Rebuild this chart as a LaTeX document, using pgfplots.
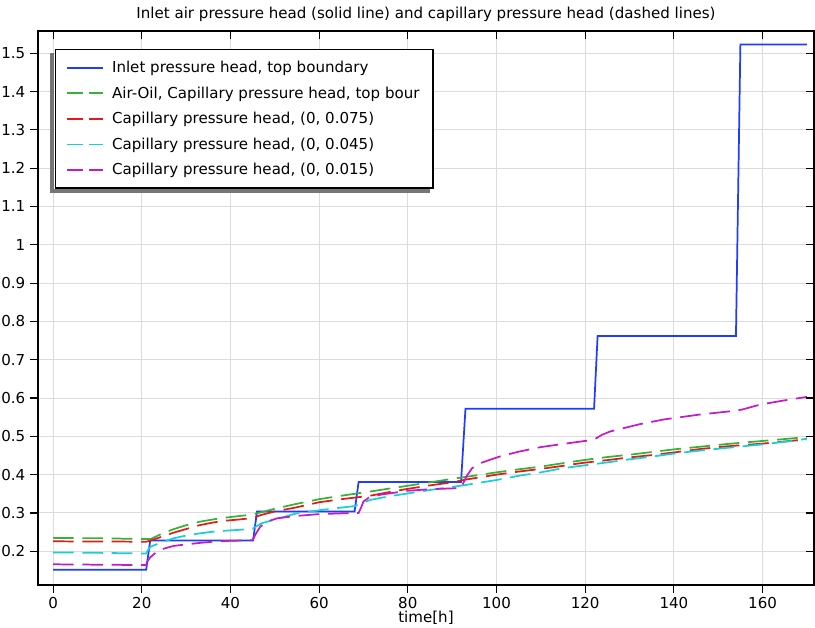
\documentclass[border=0pt]{standalone}
\usepackage{fontspec}
\setmainfont{DejaVu Sans}
\usepackage{pgfplots}
\pgfplotsset{compat=1.18}
\definecolor{cblue}{HTML}{1F3DFF}
\definecolor{cgreen}{HTML}{36B336}
\definecolor{cred}{HTML}{E31A1A}
\definecolor{ccyan}{HTML}{19CFD6}
\definecolor{cmag}{HTML}{C21BC9}
\definecolor{gridgray}{HTML}{DCDCDC}
\definecolor{shadowgray}{HTML}{767676}
\begin{document}
\begin{tikzpicture}
\pgfplotsset{dashleg/.style={legend image code/.code={\draw[##1,dash pattern=on 12pt off 4.5pt] (0pt,0pt) -- (27pt,0pt); \path (31pt,0pt);}}}
\begin{axis}[
  name=main, at={(0,0)}, anchor=south west,
  scale only axis, width=582pt, height=415.5pt,
  xmin=-3.4, xmax=171.6, ymin=0.112, ymax=1.558,
  xtick={0,20,...,160}, ytick={0.2,0.3,0.4,0.5,0.6,0.7,0.8,0.9,1,1.1,1.2,1.3,1.4,1.5},
  xtick pos=left, ytick pos=left, tick align=outside,
  major tick length=6pt,
  tick style={black, line width=0.8pt},
  axis line style={black, line width=1pt},
  grid=major, major grid style={gridgray, line width=0.75pt},
  font=\fontsize{11.3}{13.5}\selectfont,
  tick label style={font=\fontsize{11.3}{13.5}\selectfont},
  /pgf/number format/assume math mode=true,
  title={Inlet air pressure head (solid line) and capillary pressure head (dashed lines)},
  title style={at={(0.5,1)}, anchor=center, yshift=6.75pt, font=\fontsize{11.3}{13.5}\selectfont},
  xlabel={time[h]},
  xlabel style={at={(0.5,0)}, anchor=center, yshift=-24.5pt, font=\fontsize{11.3}{13.5}\selectfont},
  legend style={name=leg, at={(0.0219,0.9675)}, anchor=north west, draw=black, line width=1pt, fill=white,
    font=\fontsize{11.3}{13.5}\selectfont, row sep=5.1pt, inner xsep=8pt, inner ysep=6.5pt},
  legend cell align=left,
  legend image code/.code={\draw[#1] (0pt,0pt) -- (27pt,0pt); \path (31pt,0pt);},
]
\addplot[color=cblue, draw=cblue, line width=1.3pt] coordinates {(0,0.152) (21,0.152) (21.9,0.228) (45.1,0.228) (46,0.304) (68,0.304) (68.9,0.381) (92,0.381) (93,0.572) (122,0.572) (122.8,0.762) (154,0.762) (155,1.523) (170,1.523)};
\addlegendentry{Inlet pressure head, top boundary}
\addplot[color=cgreen, draw=cgreen, line width=1.3pt, dash pattern=on 15.5pt off 6.5pt, dashleg] coordinates {(0,0.235) (10,0.234) (21,0.232) (22,0.232) (24,0.243) (27,0.257) (30,0.268) (33,0.277) (36,0.283) (39,0.288) (42,0.292) (45,0.296) (47,0.302) (50,0.311) (54.6,0.323) (60,0.336) (65,0.345) (68,0.350) (71.5,0.356) (76,0.364) (80,0.371) (85,0.380) (90,0.389) (93,0.394) (100,0.406) (105,0.414) (110,0.421) (115,0.430) (119,0.437) (125,0.446) (130,0.452) (135,0.459) (140,0.466) (146,0.473) (152,0.480) (160,0.488) (168,0.496) (170,0.497)};
\addlegendentry{Air-Oil, Capillary pressure head, top bour}
\addplot[color=cred, draw=cred, line width=1.3pt, dash pattern=on 15.5pt off 6.5pt, dashleg] coordinates {(0,0.226) (21,0.225) (22,0.228) (24,0.236) (27,0.248) (30,0.258) (33,0.268) (36,0.275) (39,0.280) (42,0.283) (45,0.287) (47,0.295) (50,0.304) (54.6,0.314) (60,0.328) (65,0.336) (68,0.340) (71.5,0.345) (76,0.355) (80,0.363) (85,0.372) (90,0.380) (93,0.387) (100,0.400) (105,0.408) (110,0.415) (115,0.423) (119,0.430) (125,0.438) (130,0.445) (135,0.451) (140,0.458) (146,0.467) (152,0.474) (160,0.481) (168,0.490) (170,0.491)};
\addlegendentry{Capillary pressure head, (0, 0.075)}
\addplot[color=ccyan, draw=ccyan, line width=1.3pt, dash pattern=on 15.5pt off 6.5pt, dashleg] coordinates {(0,0.197) (10,0.196) (21,0.194) (21.5,0.205) (22,0.212) (24.2,0.222) (27.2,0.234) (30,0.241) (33.2,0.247) (36,0.251) (39.2,0.254) (42,0.256) (45,0.259) (46,0.266) (47,0.273) (49.7,0.282) (54.6,0.298) (60,0.307) (65,0.314) (68,0.318) (69,0.322) (71.5,0.334) (76,0.344) (80.6,0.352) (85,0.360) (90,0.368) (93,0.373) (100,0.386) (105,0.397) (110,0.406) (115,0.417) (119,0.423) (125,0.432) (130,0.440) (135,0.447) (140,0.455) (146,0.463) (152,0.470) (160,0.479) (168,0.490) (170,0.494)};
\addlegendentry{Capillary pressure head, (0, 0.045)}
\addplot[color=cmag, draw=cmag, line width=1.3pt, dash pattern=on 15.5pt off 6.5pt, dashleg] coordinates {(0,0.166) (10,0.165) (21,0.164) (21.2,0.173) (21.9,0.184) (23.4,0.199) (25,0.207) (27.2,0.214) (30,0.218) (33.2,0.222) (36,0.225) (39.2,0.227) (42,0.228) (45,0.229) (45.6,0.243) (46.7,0.264) (48.2,0.277) (50.5,0.286) (54.6,0.292) (60,0.297) (65,0.299) (68.9,0.300) (69.5,0.315) (70,0.330) (71.2,0.340) (74,0.348) (80,0.358) (85,0.362) (92,0.365) (93.2,0.395) (94.5,0.417) (96.3,0.430) (100.9,0.448) (105,0.460) (110,0.472) (117.4,0.484) (121.9,0.491) (123.8,0.504) (125.7,0.513) (132.4,0.532) (137.7,0.544) (145.9,0.557) (154,0.567) (155.4,0.570) (159.5,0.583) (165,0.594) (170,0.603)};
\addlegendentry{Capillary pressure head, (0, 0.015)}
\end{axis}
\begin{axis}[
  at={(0,0)}, anchor=south west,
  scale only axis, width=582pt, height=415.5pt,
  xmin=-3.4, xmax=171.6, ymin=0.112, ymax=1.558,
  xtick={0,20,...,160}, ytick={0.2,0.3,0.4,0.5,0.6,0.7,0.8,0.9,1,1.1,1.2,1.3,1.4,1.5},
  xtick pos=right, ytick pos=right, tick align=inside,
  major tick length=6pt,
  tick style={black, line width=0.8pt},
  axis line style={draw=none},
  xticklabels={}, yticklabels={},
]
\end{axis}
\fill[shadowgray] ([shift={(-3.5pt,-3.5pt)}]leg.south west) rectangle ([shift={(-0.5pt,-3pt)}]leg.north west);
\fill[shadowgray] ([shift={(-3.5pt,-3.5pt)}]leg.south west) rectangle ([shift={(-3pt,-0.5pt)}]leg.south east);
\pgfresetboundingbox
\useasboundingbox (-28.5pt,-32.25pt) rectangle (582.75pt,438.75pt);
\end{tikzpicture}
\end{document}
